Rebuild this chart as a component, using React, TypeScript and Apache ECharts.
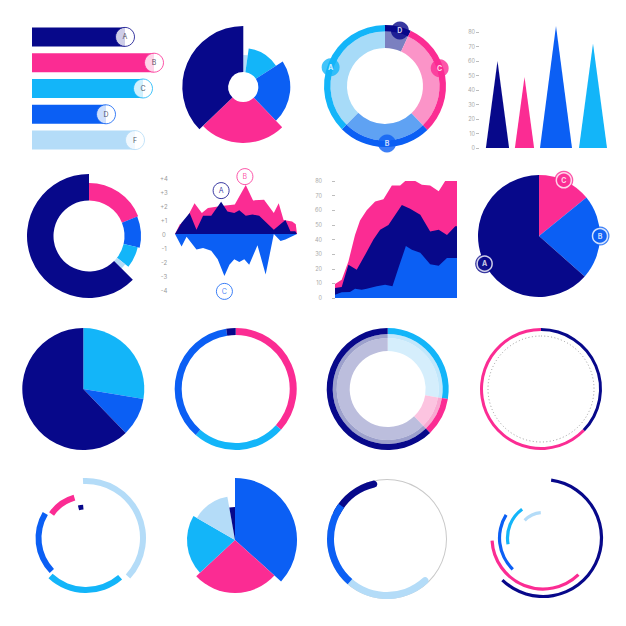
import React, { useEffect, useRef } from 'react';
import * as echarts from 'echarts';

const NAVY = '#07088a';
const PINK = '#fb2c93';
const CYAN = '#13b5f9';
const BLUE = '#0b5ff4';
const LIGHT = '#b4dcf8';

// 1. Horizontal bars with end badges
const barCategories = ['A', 'B', 'C', 'D', 'F'];
const barValues = [93, 122, 111, 74, 103];
const barColors = [NAVY, PINK, CYAN, BLUE, LIGHT];

// 2. Rose with hole (angle spans clockwise from 12 o'clock, radius values)
const rose1Spans = [8, 49, 79, 90, 134];
const rose1Values = [32, 39, 47, 56, 61];
const rose1Colors = [LIGHT, CYAN, BLUE, PINK, NAVY];

// 3. Labelled ring
const ringLabels = ['D', 'C', 'B', 'A'];
const ringShares = [25, 111, 89, 135];
const ringLabelAngles = [15, 72, 178, 289];
const ringColors = [NAVY, PINK, BLUE, CYAN];
const ringLightColors = ['#7b80c0', '#fb94c8', '#5fa2f3', '#a7dbf8'];

// 4. Triangles
const triCategories = ['A', 'B', 'C', 'D'];
const triValues = [60, 49, 84, 72];
const triColors = [NAVY, PINK, BLUE, CYAN];
const triWidths = [23, 19, 32, 28];
const triOffsets = [2, -2, -1.5, 4.5];

// 5. Donut with uneven outer radius
const donutSpans = [68, 35, 25, 7, 225];
const donutValues = [53, 52, 50, 46, 62];
const donutColors = [PINK, BLUE, CYAN, LIGHT, NAVY];

// 6. Mirror area chart
const mirrorPinkX = [0, 4, 8, 16, 22, 27, 38, 49, 58, 64, 73, 81, 85, 89, 96, 99, 100];
const mirrorPinkY = [0, 0.7, 0.85, 2.2, 1.5, 1.85, 2.0, 2.1, 3.5, 2.4, 2.45, 1.5, 2.2, 1.0, 0.9, 0.7, 0];
const mirrorNavyX = [0, 5.4, 12, 17.6, 23, 29.7, 37.8, 43, 48.6, 52.7, 58, 63.5, 69, 81, 90.5, 94.6, 98.6, 100];
const mirrorNavyY = [0, 0.8, 1.5, 0.3, 1.3, 1.3, 2.3, 1.6, 1.5, 1.7, 1.3, 1.4, 1.3, 0.3, 1.0, 0.2, 0.2, 0];
const mirrorBlueX = [0, 5.4, 9.5, 17.6, 23, 29.7, 35, 40.5, 44.6, 48.6, 52.7, 56.8, 60.8, 67.6, 74.3, 81, 86.5, 90.5, 100];
const mirrorBlueY = [0, -0.9, -0.2, -1.1, -1.0, -1.2, -1.8, -3.0, -2.2, -1.8, -2.0, -1.8, -2.2, -0.8, -2.9, 0, -0.5, -0.4, 0];
const mirrorLabelNames = ['A', 'B', 'C'];
const mirrorLabelX = [37.8, 57.3, 40.5];
const mirrorLabelY = [3.1, 4.1, -4.1];
const mirrorLabelColors = [NAVY, PINK, BLUE];

// 7. Layered area chart
const stackPinkX = [0, 5.5, 11, 16.4, 20.5, 26, 32.9, 39.7, 46.6, 53.4, 60.3, 65.8, 71.2, 78, 85, 91.8, 100];
const stackPinkY = [9.5, 12.5, 25, 43, 53, 60, 66, 67.5, 77, 77, 82, 80, 77.5, 77, 73, 82, 82];
const stackNavyX = [0, 5.5, 11, 17.8, 24.7, 31.5, 37, 43.8, 54.8, 61.6, 69.9, 78, 85, 91.8, 98.6, 100];
const stackNavyY = [6.8, 7.5, 22.7, 19.3, 29.5, 40, 46.6, 50, 63.6, 61, 57, 45.5, 46.6, 43, 49, 49];
const stackBlueX = [0, 5.5, 12.3, 16.4, 21.9, 26, 34.2, 41.1, 47.1, 52.6, 58.1, 63, 69.9, 78, 85, 91.8, 100];
const stackBlueY = [2.3, 3.9, 4.1, 6.4, 5.7, 6.4, 8, 9.1, 8, 22, 35.5, 33, 31, 23, 22, 27.3, 27.3];

// 8. Pie with badges
const pieLabels = ['C', 'B', 'A'];
const pieShares = [51, 80.5, 228.5];
const pieLabelAngles = [24, 90, 243];
const pieColors = [PINK, BLUE, NAVY];

// 9. Plain pie
const pie2Shares = [99.5, 36.5, 224];
const pie2Colors = [CYAN, BLUE, NAVY];

// 10. Thin ring
const thinRingShares = [132, 89, 130, 9];
const thinRingColors = [PINK, CYAN, BLUE, NAVY];

// 11. Layered ring
const layeredShares = [99.5, 36.5, 224];
const layeredColors = [CYAN, PINK, NAVY];
const layeredBandColors = ['#c2e7fb', '#f9a9d1', '#9ca0cc'];
const layeredInnerColors = ['#d5eefc', '#fcc4e0', '#bcbedd'];

// 12. Outline ring
const outlineShares = [134, 226];
const outlineColors = [NAVY, PINK];

// 13. Spiral arcs
const spiralStarts = [357, 139, 226, 305, 346];
const spiralSpans = [135.5, 84, 75, 39, 9];
const spiralRadii = [60, 55, 50.5, 45, 33.5];
const spiralColors = [LIGHT, CYAN, BLUE, PINK, NAVY];

// 14. Rose without hole
const rose2Spans = [132, 95, 73, 50, 10];
const rose2Values = [62, 53, 48, 44, 33];
const rose2Colors = [BLUE, PINK, CYAN, LIGHT, NAVY];

// 15. Gauge-like ring
const gaugeStart = 134;
const gaugeSpans = [87, 85, 44];
const gaugeColors = [LIGHT, BLUE, NAVY];

// 16. Concentric arcs
const arcStarts = [8, 136, 224, 260, 314];
const arcSpans = [216, 131, 78, 64, 41];
const arcRadii = [58.5, 51, 43.5, 35.5, 25.5];
const arcColors = [NAVY, PINK, BLUE, CYAN, LIGHT];

// layout
const centers: Record<string, [number, number]> = {
  rose1: [243.3, 87],
  ring: [385, 86],
  donut: [89, 236],
  pieLabel: [539, 236],
  pie2: [83.3, 389],
  thinRing: [235.7, 389],
  layered: [387.7, 389],
  outline: [541, 389],
  spiral: [86, 538],
  rose2: [235, 540],
  gauge: [387, 539],
  arcs: [543, 538],
};

const norm = (a: number) => ((a % 360) + 360) % 360;

function pieSeries(center: number[], radius: number[], start: number, items: any[], z = 2, itemStyle: any = {}) {
  return {
    type: 'pie',
    center,
    radius,
    startAngle: norm(90 - start),
    clockwise: true,
    silent: true,
    z,
    padAngle: 0,
    minAngle: 0,
    avoidLabelOverlap: false,
    label: { show: false },
    labelLine: { show: false },
    emphasis: { disabled: true },
    itemStyle: { borderWidth: 0, borderColor: 'rgba(0,0,0,0)', ...itemStyle },
    data: items,
  };
}

function arc(center: number[], r0: number, r1: number, start: number, span: number, color: string, extra: any = {}, z = 2) {
  const items: any[] = [{ value: span, itemStyle: { color, ...extra } }];
  if (span < 360) items.push({ value: 360 - span, itemStyle: { color: 'rgba(0,0,0,0)', borderRadius: 0 } });
  return pieSeries(center, [r0, r1], start, items, z);
}

function ring(center: number[], r0: number, r1: number, start: number, shares: number[], colors: string[], z = 2) {
  return pieSeries(center, [r0, r1], start, shares.map((v, i) => ({ value: v, itemStyle: { color: colors[i] } })), z);
}

function buildOption() {
  const series: any[] = [];

  // 1. bars
  series.push({
    type: 'bar', xAxisIndex: 0, yAxisIndex: 0, barWidth: 19, silent: true,
    data: barValues.map((v, i) => ({ value: v, itemStyle: { color: barColors[i] } })),
  });
  series.push({
    type: 'scatter', xAxisIndex: 0, yAxisIndex: 0, symbolSize: 19, silent: true, z: 5, clip: false,
    data: barValues.map((v, i) => ({ value: [v, barCategories[i]], itemStyle: { color: '#fff', borderColor: barColors[i], borderWidth: 1 } })),
    label: { show: true, position: 'inside', formatter: (p: any) => barCategories[p.dataIndex], color: '#2a2a3a', fontSize: 7 },
  });

  // 2. rose with hole
  let acc = 0;
  rose1Spans.forEach((s, i) => {
    series.push(arc(centers.rose1, 15, rose1Values[i], acc, s, rose1Colors[i]));
    acc += s;
  });

  // 3. labelled ring
  series.push(ring(centers.ring, 38, 54.5, 0, ringShares, ringLightColors));
  series.push(ring(centers.ring, 54.5, 61, 0, ringShares, ringColors));
  series.push({
    type: 'scatter', coordinateSystem: 'polar', polarIndex: 0, symbolSize: 18, silent: true, z: 6,
    data: ringLabels.map((n, i) => ({ value: [57.5, ringLabelAngles[i]], itemStyle: { color: ringColors[i] } })),
    label: { show: true, position: 'inside', formatter: (p: any) => ringLabels[p.dataIndex], color: '#fff', fontSize: 7, fontWeight: 'bold' },
  });

  // 4. triangles
  series.push({
    type: 'pictorialBar', xAxisIndex: 1, yAxisIndex: 1, symbol: 'triangle', silent: true,
    data: triValues.map((v, i) => ({
      value: v,
      symbolSize: [triWidths[i], '100%'],
      symbolOffset: [triOffsets[i], 0],
      itemStyle: { color: triColors[i] },
    })),
  });

  // 5. donut
  acc = 0;
  donutSpans.forEach((s, i) => {
    series.push(arc(centers.donut, 35.5, donutValues[i], acc, s, donutColors[i]));
    acc += s;
  });

  // 6. mirror areas
  const area = (xs: number[], ys: number[], color: string, xi: number, z: number) => ({
    type: 'line', xAxisIndex: xi, yAxisIndex: xi, silent: true, z, symbol: 'none',
    lineStyle: { width: 0 }, areaStyle: { color, opacity: 1 },
    data: xs.map((x, i) => [x, ys[i]]),
  });
  series.push(area(mirrorPinkX, mirrorPinkY, PINK, 2, 2));
  series.push(area(mirrorNavyX, mirrorNavyY, NAVY, 2, 3));
  series.push(area(mirrorBlueX, mirrorBlueY, BLUE, 2, 3));
  series.push({
    type: 'scatter', xAxisIndex: 2, yAxisIndex: 2, symbolSize: 16, silent: true, z: 6, clip: false,
    data: mirrorLabelNames.map((n, i) => ({
      value: [mirrorLabelX[i], mirrorLabelY[i]],
      itemStyle: { color: '#fff', borderColor: mirrorLabelColors[i], borderWidth: 1 },
      label: { color: mirrorLabelColors[i] },
    })),
    label: { show: true, position: 'inside', formatter: (p: any) => mirrorLabelNames[p.dataIndex], fontSize: 7 },
  });

  // 7. layered areas
  series.push(area(stackPinkX, stackPinkY, PINK, 3, 2));
  series.push(area(stackNavyX, stackNavyY, NAVY, 3, 3));
  series.push(area(stackBlueX, stackBlueY, BLUE, 3, 4));

  // 8. pie with badges
  series.push(ring(centers.pieLabel, 0, 61, 0, pieShares, pieColors));
  series.push({
    type: 'scatter', coordinateSystem: 'polar', polarIndex: 1, symbolSize: 19, silent: true, z: 5,
    data: pieLabels.map((n, i) => ({ value: [61, pieLabelAngles[i]], itemStyle: { color: pieColors[i] } })),
  });
  series.push({
    type: 'scatter', coordinateSystem: 'polar', polarIndex: 1, symbolSize: 15, silent: true, z: 6,
    data: pieLabels.map((n, i) => ({ value: [61, pieLabelAngles[i]], itemStyle: { color: pieColors[i], borderColor: '#fff', borderWidth: 1.5 } })),
    label: { show: true, position: 'inside', formatter: (p: any) => pieLabels[p.dataIndex], color: '#fff', fontSize: 7, fontWeight: 'bold' },
  });

  // 9. plain pie
  series.push(ring(centers.pie2, 0, 61, 0, pie2Shares, pie2Colors));

  // 10. thin ring
  series.push(ring(centers.thinRing, 54, 61, 0, thinRingShares, thinRingColors));

  // 11. layered ring
  series.push(ring(centers.layered, 38, 51, 0, layeredShares, layeredInnerColors));
  series.push(ring(centers.layered, 51, 55, 0, layeredShares, layeredBandColors));
  series.push(ring(centers.layered, 55, 61, 0, layeredShares, layeredColors));

  // 12. outline ring with dotted inner circle
  series.push(ring(centers.outline, 58, 61, 0, outlineShares, outlineColors));
  series.push(pieSeries(centers.outline, [0, 53], 0, [{ value: 1, itemStyle: { color: 'rgba(0,0,0,0)' } }], 1,
    { borderWidth: 1, borderColor: '#9a9a9a', borderType: [1, 2.4] }));

  // 13. spiral arcs
  spiralStarts.forEach((st, i) => {
    const w = i === 4 ? 5 : 6;
    series.push(arc(centers.spiral, spiralRadii[i] - w, spiralRadii[i], st, spiralSpans[i], spiralColors[i]));
  });

  // 14. rose without hole
  acc = 0;
  rose2Spans.forEach((s, i) => {
    series.push(arc(centers.rose2, 0, rose2Values[i], acc, s, rose2Colors[i]));
    acc += s;
  });

  // 15. gauge ring
  series.push(arc(centers.gauge, 59, 60, 0, 360, '#c9c9c9', {}, 1));
  const gStarts = [gaugeStart, gaugeStart + gaugeSpans[0], gaugeStart + gaugeSpans[0] + gaugeSpans[1]];
  const overlap = 12;
  // end pieces with rounded caps, extended under the middle piece
  series.push(arc(centers.gauge, 53, 60, gStarts[0], gaugeSpans[0] + overlap, gaugeColors[0], { borderRadius: 3.5 }, 2));
  series.push(arc(centers.gauge, 53, 60, gStarts[2] - overlap, gaugeSpans[2] + overlap, gaugeColors[2], { borderRadius: 3.5 }, 2));
  series.push(arc(centers.gauge, 53, 60, gStarts[1], gaugeSpans[1], gaugeColors[1], {}, 3));

  // 16. concentric arcs
  arcStarts.forEach((st, i) => {
    series.push(arc(centers.arcs, arcRadii[i] - 1.6, arcRadii[i] + 1.6, st, arcSpans[i], arcColors[i]));
  });

  const hiddenAxis = { axisLine: { show: false }, axisTick: { show: false }, axisLabel: { show: false }, splitLine: { show: false } };

  return {
    animation: false,
    backgroundColor: '#ffffff',
    textStyle: { fontFamily: 'Inter, "Noto Sans", sans-serif' },
    grid: [
      { left: 32, top: 24, width: 140, height: 129, outerBoundsMode: 'none' },
      { left: 480, top: 32, width: 124, height: 116, outerBoundsMode: 'none' },
      { left: 175, top: 178, width: 122, height: 112, outerBoundsMode: 'none' },
      { left: 335, top: 181, width: 122, height: 117, outerBoundsMode: 'none' },
    ],
    xAxis: [
      { gridIndex: 0, type: 'value', min: 0, max: 140, show: false },
      { gridIndex: 1, type: 'category', data: triCategories, show: false },
      { gridIndex: 2, type: 'value', min: 0, max: 100, show: false },
      { gridIndex: 3, type: 'value', min: 0, max: 100, show: false },
    ],
    yAxis: [
      { gridIndex: 0, type: 'category', data: barCategories, inverse: true, show: false },
      {
        gridIndex: 1, type: 'value', min: 0, max: 80, interval: 10, offset: 1,
        axisLine: { show: false }, splitLine: { show: false },
        axisTick: { show: true, length: 3, lineStyle: { color: '#bdbdbd' } },
        axisLabel: { fontSize: 5.5, color: '#a8a8a8', margin: 4 },
      },
      {
        gridIndex: 2, type: 'value', min: -4, max: 4, interval: 1,
        axisLine: { show: false }, splitLine: { show: false }, axisTick: { show: false },
        axisLabel: { fontSize: 6, color: '#9a9a9a', align: 'center', margin: 11, formatter: (v: number) => (v > 0 ? '+' + v : String(v)) },
      },
      {
        gridIndex: 3, type: 'value', min: 0, max: 80, interval: 10, offset: 8,
        axisLine: { show: false }, splitLine: { show: false },
        axisTick: { show: true, length: 3, lineStyle: { color: '#bdbdbd' } },
        axisLabel: { fontSize: 5.5, color: '#a8a8a8', margin: 5 },
      },
    ],
    polar: [
      { center: centers.ring, radius: 61 },
      { center: centers.pieLabel, radius: 61 },
    ],
    angleAxis: [
      { polarIndex: 0, type: 'value', min: 0, max: 360, startAngle: 90, clockwise: true, ...hiddenAxis },
      { polarIndex: 1, type: 'value', min: 0, max: 360, startAngle: 90, clockwise: true, ...hiddenAxis },
    ],
    radiusAxis: [
      { polarIndex: 0, type: 'value', min: 0, max: 61, ...hiddenAxis },
      { polarIndex: 1, type: 'value', min: 0, max: 61, ...hiddenAxis },
    ],
    series,
  };
}

export default function App() {
  const ref = useRef<HTMLDivElement>(null);
  useEffect(() => {
    if (!ref.current) return;
    const chart = echarts.init(ref.current, undefined, { renderer: 'svg' });
    chart.setOption(buildOption() as any);
    return () => chart.dispose();
  }, []);
  return (
    <div
      ref={ref}
      style={{ position: 'fixed', left: 0, top: 0, width: 626, height: 626, background: '#fff' }}
    />
  );
}
